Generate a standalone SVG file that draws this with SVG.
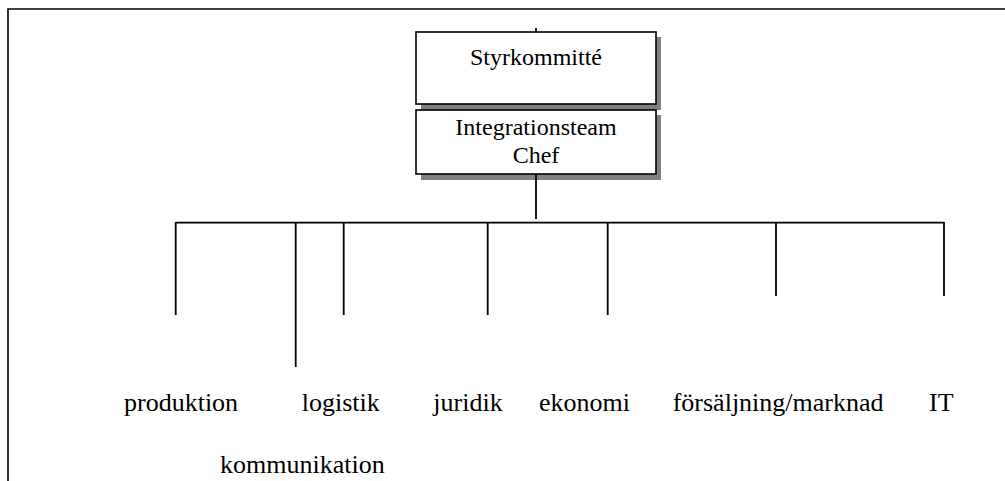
<svg xmlns="http://www.w3.org/2000/svg" width="1005" height="481" viewBox="0 0 1005 481">
  <style>
    .frame { fill: none; stroke: #000; stroke-width: 1.6; }
    .box { fill: #fff; stroke: #000; stroke-width: 1.6; }
    .shadow { fill: #808080; stroke: none; }
    .line { fill: none; stroke: #000; stroke-width: 1.8; }
    text { font-family: 'Times New Roman', 'Liberation Serif', 'DejaVu Serif', serif; fill: #000; }
    .boxtext { font-size: 24px; text-anchor: middle; }
    .label { font-size: 26px; }
  </style>

  <rect width="1005" height="481" fill="#fff"/>

  <!-- page frame -->
  <path class="frame" d="M8,481 V9 H1005"/>

  <!-- top boxes -->
  <g id="styrkommitte">
    <rect class="shadow" x="421" y="37" width="240" height="73"/>
    <rect class="box" x="416" y="32" width="240" height="72"/>
    <text class="boxtext" x="536" y="65">Styrkommitté</text>
  </g>
  <g id="integrationsteam">
    <rect class="shadow" x="421" y="115" width="240" height="65"/>
    <rect class="box" x="416" y="110" width="240" height="64"/>
    <text class="boxtext" x="536" y="135">Integrationsteam</text>
    <text class="boxtext" x="536" y="163">Chef</text>
  </g>

  <!-- connectors -->
  <g id="connectors">
    <line class="line" x1="536" y1="28" x2="536" y2="32"/>
    <line class="line" x1="536" y1="174" x2="536" y2="219"/>
    <line class="line" x1="175.7" y1="222.7" x2="944" y2="222.7"/>
    <line class="line" x1="175.7" y1="222" x2="175.7" y2="315"/>
    <line class="line" x1="295.7" y1="222.7" x2="295.7" y2="367"/>
    <line class="line" x1="343.7" y1="222.7" x2="343.7" y2="315"/>
    <line class="line" x1="487.7" y1="222.7" x2="487.7" y2="315"/>
    <line class="line" x1="607.7" y1="222.7" x2="607.7" y2="315"/>
    <line class="line" x1="776" y1="222.7" x2="776" y2="296"/>
    <line class="line" x1="944" y1="222" x2="944" y2="296"/>
  </g>

  <!-- department labels -->
  <g id="produktion"><text class="label" x="124" y="411">produktion</text></g>
  <g id="kommunikation"><text class="label" x="220" y="473">kommunikation</text></g>
  <g id="logistik"><text class="label" x="301.7" y="411">logistik</text></g>
  <g id="juridik"><text class="label" x="433.3" y="411">juridik</text></g>
  <g id="ekonomi"><text class="label" x="539" y="411">ekonomi</text></g>
  <g id="forsaljning"><text class="label" x="672.7" y="411">försäljning/marknad</text></g>
  <g id="it"><text class="label" x="929" y="411">IT</text></g>
</svg>
